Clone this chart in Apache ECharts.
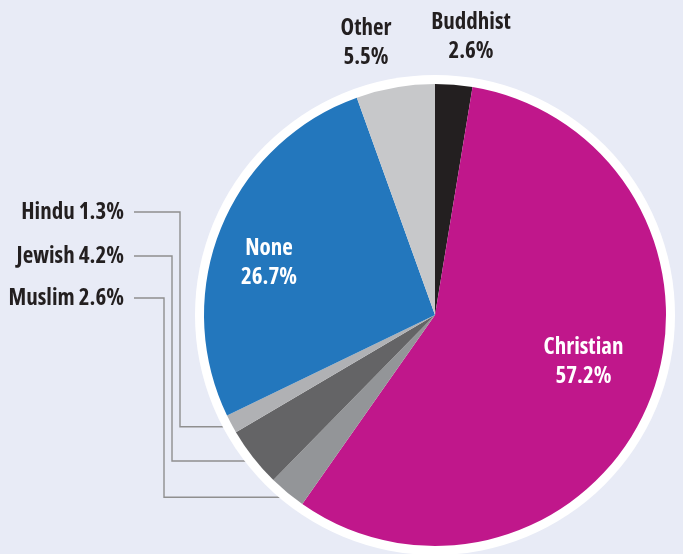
<!DOCTYPE html>
<html>
<head>
<meta charset="utf-8">
<script src="https://cdn.jsdelivr.net/npm/echarts@6/dist/echarts.min.js"></script>
<style>
  html, body { margin: 0; padding: 0; background: #e8ebf6; }
  #chart { width: 683px; height: 554px; }
</style>
</head>
<body>
<div id="chart"></div>
<script>
// Religious affiliation shares, clockwise from 12 o'clock
const religions = ['Buddhist', 'Christian', 'Muslim', 'Jewish', 'Hindu', 'None', 'Other'];
const shares    = [2.6, 57.2, 2.6, 4.2, 1.3, 26.7, 5.5];

const sliceColors = {
  Buddhist: '#231f20',
  Christian: '#c0178b',
  Muslim: '#939598',
  Jewish: '#646466',
  Hindu: '#b0b1b4',
  None: '#2377bd',
  Other: '#c7c8ca'
};

// Where each label sits; left-column labels get elbow leader lines
const labelSpots = {
  Buddhist:  { x: 471, y: 36.5, align: 'center' },
  Other:     { x: 366, y: 43, align: 'center' },
  None:      { x: 269, y: 262.5, align: 'center' },
  Christian: { x: 583.5, y: 362, align: 'center' },
  Hindu:     { x: 124, y: 212, align: 'right', bendX: 180 },
  Jewish:    { x: 124, y: 256, align: 'right', bendX: 172 },
  Muslim:    { x: 124, y: 298, align: 'right', bendX: 164 }
};
const leftColumn = ['Hindu', 'Jewish', 'Muslim'];
const insideNames = ['None', 'Christian'];

const CENTER = [435, 315];
const RADIUS = 231;
const RING = 240;
const FONT = '"Open Sans", "DejaVu Sans Condensed", sans-serif';

const pieData = religions.map((name, i) => {
  const inside = insideNames.includes(name);
  const left = leftColumn.includes(name);
  return {
    name: name,
    value: shares[i],
    itemStyle: { color: sliceColors[name] },
    label: {
      show: true,
      position: inside ? 'inside' : 'outside',
      color: inside ? '#ffffff' : '#231f20',
      formatter: left ? '{b} {c}%' : '{b}\n{c}%'
    },
    labelLine: { show: left }
  };
});

const chart = echarts.init(document.getElementById('chart'), null, { renderer: 'canvas' });

chart.setOption({
  backgroundColor: '#e8ebf6',
  animation: false,
  series: [
    {
      // white rim around the pie
      type: 'pie',
      silent: true,
      center: CENTER,
      radius: [0, RING],
      label: { show: false },
      labelLine: { show: false },
      itemStyle: { color: '#ffffff' },
      data: [{ name: '', value: 1 }]
    },
    {
      type: 'pie',
      center: CENTER,
      radius: [0, RADIUS],
      startAngle: 90,
      clockwise: true,
      avoidLabelOverlap: false,
      silent: true,
      label: {
        fontFamily: FONT,
        fontStyle: 'condensed',
        fontWeight: 'bold',
        fontSize: 23,
        lineHeight: 29
      },
      labelLine: {
        length: 10,
        length2: 10,
        smooth: false,
        lineStyle: { color: '#8f8f8f', width: 1.4 }
      },
      labelLayout: function (params) {
        const name = religions[params.dataIndex];
        const spot = labelSpots[name];
        const out = {
          x: spot.x,
          y: spot.y,
          align: spot.align,
          verticalAlign: 'middle'
        };
        if (spot.bendX != null) {
          let p0, p1;
          if (params.labelLinePoints && params.labelLinePoints.length >= 2) {
            p0 = params.labelLinePoints[0];
            p1 = params.labelLinePoints[1];
          } else {
            p0 = CENTER; p1 = CENTER;
          }
          const dx = p1[0] - p0[0], dy = p1[1] - p0[1];
          const len = Math.sqrt(dx * dx + dy * dy) || 1;
          const gap = RING - RADIUS - 3;
          const sx = p0[0] + dx / len * gap;
          const sy = p0[1] + dy / len * gap;
          out.labelLinePoints = [
            [sx, sy],
            [spot.bendX, sy],
            [spot.bendX, spot.y],
            [spot.x + 10, spot.y]
          ];
        }
        return out;
      },
      data: pieData
    }
  ]
});
</script>
</body>
</html>
